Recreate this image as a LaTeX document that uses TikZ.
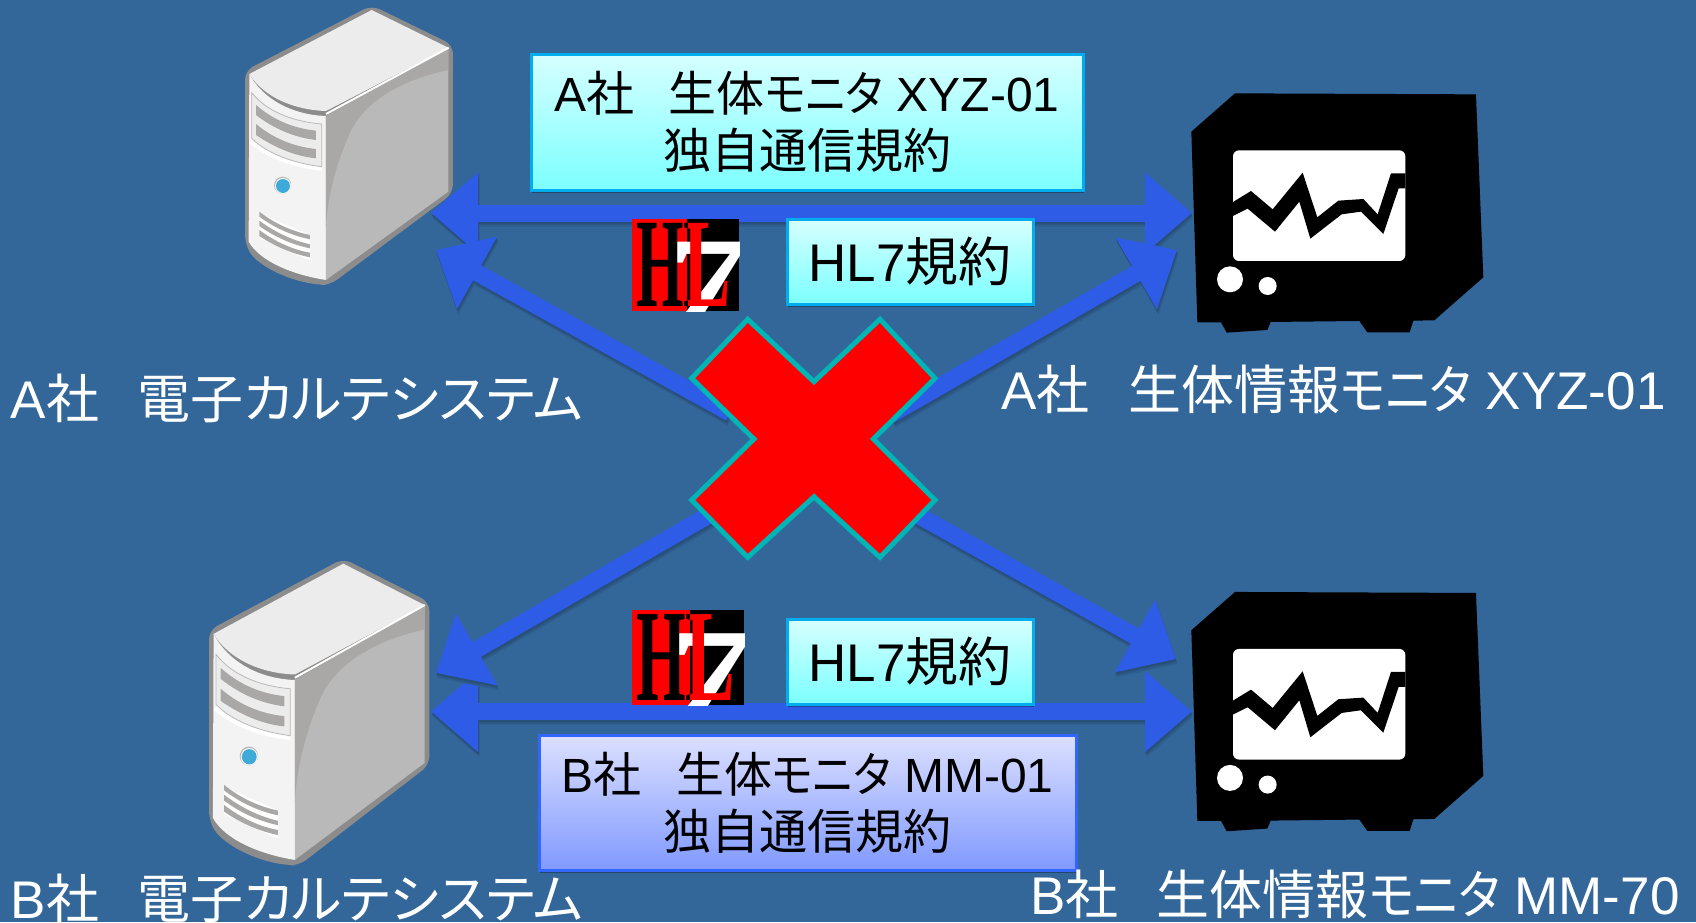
\documentclass[tikz,border=0pt]{standalone}
\usepackage{fontspec}
\usetikzlibrary{arrows.meta,shadows}
\setmainfont{Liberation Sans}
\newfontfamily\cjkfont{Noto Sans CJK JP}
\newfontfamily\kanafont[RawFeature=+palt]{Noto Sans CJK JP}
\newfontfamily\logofont{Liberation Serif}
\newcommand\Jp[1]{{\cjkfont #1}}
\newcommand\Kn[1]{{\kanafont #1}}
\newcommand\Ks[1]{\scalebox{.9}[1]{\kanafont #1}}
\newcommand\Gp{\hspace{.72em}}
\definecolor{bgblue}{HTML}{336699}
\definecolor{arrowblue}{HTML}{2E5CE6}
\definecolor{shadowA}{HTML}{2F5F8E}
\definecolor{shadowB}{HTML}{2B5783}
\definecolor{shadowC}{HTML}{274F78}
\definecolor{crossedge}{HTML}{00B5B5}
\definecolor{srvedge}{HTML}{8C8C8C}
\definecolor{srvtop}{HTML}{ECECEC}
\definecolor{srvfront}{HTML}{F3F3F3}
\definecolor{srvside}{HTML}{B9B9B9}
\definecolor{srvband}{HTML}{A9A8A6}
\definecolor{srvdot}{HTML}{3FA9D8}
\definecolor{cyantop}{HTML}{D6FFFF}
\definecolor{cyanbot}{HTML}{7CFFFF}
\definecolor{bluetop}{HTML}{DCE0FF}
\definecolor{bluebot}{HTML}{8099FF}
\definecolor{bluedge}{HTML}{3366FF}
\tikzset{
  lab/.style={text=white,font=\fontsize{53}{60}\selectfont,inner sep=0pt},
  boxshadow/.style={drop shadow={shadow xshift=1pt,shadow yshift=-3pt,fill=black,opacity=.3}},
  cyanbox/.style={draw=cyan,line width=3pt,top color=cyantop,bottom color=cyanbot,boxshadow,
    align=center,text=black,font=\fontsize{48}{57}\selectfont,inner sep=0pt},
  bluebox/.style={draw=bluedge,line width=3pt,top color=bluetop,bottom color=bluebot,boxshadow,
    align=center,text=black,font=\fontsize{48}{57}\selectfont,inner sep=0pt},
  hlbox/.style={cyanbox,font=\fontsize{53}{60}\selectfont,minimum width=246pt,minimum height=85pt},
  twohead/.style={line width=17pt,{Triangle[length=47pt,width=78pt]}-{Triangle[length=47pt,width=78pt]}},
  onehead/.style={line width=17pt,-{Triangle[length=47pt,width=80pt]}},
}
\newcommand\conn[3]{%
  \draw[#1,shadowA,transform canvas={shift={(1.5pt,-5pt)}}] (#2) -- (#3);
  \draw[#1,shadowB,transform canvas={shift={(1pt,-3.5pt)}}] (#2) -- (#3);
  \draw[#1,shadowC,transform canvas={shift={(.5pt,-2pt)}}] (#2) -- (#3);
  \draw[#1,arrowblue] (#2) -- (#3);
}
\newcommand\serverart{%
  \fill[srvedge,rounded corners=9pt] (75,212)--(455,16)--(699,135)--(699,580)--(330,855)--(305,855)
     .. controls (200,840) and (110,795) .. (75,730) -- cycle;
  \fill[srvfront] (88,222) .. controls (130,300) and (220,345) .. (318,348) -- (318,840)
     .. controls (220,825) and (120,785) .. (86,725) -- cycle;
  \fill[srvtop] (88,222)--(455,30)--(685,143)--(318,333) .. controls (220,330) and (130,290) .. (88,222) -- cycle;
  \fill[srvside] (318,348)--(685,145)--(685,575)--(318,840)--cycle;
  \fill[srvband] (318,348)--(685,145)--(685,210) .. controls (520,245) and (420,320) .. (385,410)
     .. controls (345,500) and (322,600) .. (318,680) -- cycle;
  \draw[white,line width=2pt] (318,342)--(686,143);
  \fill[white] (88,430) .. controls (150,480) and (230,505) .. (306,512) -- (306,505) -- (95,420) -- cycle;
  \filldraw[fill=srvtop,draw=srvside,line width=.8pt] (95,278) .. controls (140,335) and (220,365) .. (305,372)
     -- (305,500) .. controls (220,490) and (140,460) .. (95,415) -- cycle;
  \fill[srvband] (108,315) .. controls (160,360) and (220,385) .. (288,392) -- (288,420) .. controls (220,412) and (160,385) .. (108,345) -- cycle;
  \fill[srvband] (108,372) .. controls (160,415) and (220,440) .. (288,447) -- (288,475) .. controls (220,468) and (160,440) .. (108,405) -- cycle;
  \fill[srvside] (188,556) circle[radius=26];
  \fill[white] (189,558) circle[radius=24];
  \fill[srvdot] (189,558) circle[radius=21];
  \fill[white] (118,640)--(270,705)--(270,782)--(118,715)--cycle;
  \fill[srvband] (118,635) .. controls (165,672) and (220,695) .. (270,705) -- (270,718) .. controls (220,708) and (165,685) .. (118,650) -- cycle;
  \fill[srvband] (118,662) .. controls (165,697) and (220,722) .. (270,733) -- (270,745) .. controls (220,735) and (165,712) .. (118,678) -- cycle;
  \fill[srvband] (118,690) .. controls (165,725) and (220,750) .. (270,758) -- (270,772) .. controls (220,762) and (165,740) .. (118,708) -- cycle;
}
\newcommand\monitorart{%
  \fill[black] (195,40)--(918,43)--(940,592)--(793,721)--(730,722)--(719,757)--(592,757)--(568,723)
     --(302,726)--(292,750)--(170,758)--(153,727)--(82,727)--(64,155)--cycle;
  \fill[white,rounded corners=6pt] (189,211) rectangle (706,543);
  \fill[black] (189,366)--(243,333)--(308,388)--(398,278)--(442,412)--(505,362)--(580,357)--(623,403)
     --(663,280)--(706,280)--(706,325)--(686,325)--(640,462)--(573,395)--(515,403)--(421,476)--(388,365)
     --(315,455)--(233,386)--(189,408)--cycle;
  \fill[white] (180,598) circle[radius=39];
  \fill[white] (293,618) circle[radius=27];
}
\newcommand\hlseven[1]{%
  \begin{scope}
    \clip (0,0) rectangle (107,92);
    \fill[black] (0,0) rectangle (107,92);
    \fill[red] (0,0) rectangle (55,92);
    \node[text=white,inner sep=0pt,transform shape,font=\logofont\bfseries\fontsize{112}{112}\selectfont] (#1seven) at (76,60) {\scalebox{1.5}[1]{7}};
    \node[text=black,inner sep=0pt,transform shape,font=\logofont\bfseries\fontsize{127}{127}\selectfont] (#1h) at (28,46) {\scalebox{.48}[1]{H}};
    \begin{scope}
      \clip (55,0) rectangle (107,92);
      \node[text=red,inner sep=0pt,transform shape,font=\logofont\bfseries\fontsize{127}{127}\selectfont] (#1l) at (75,46) {\scalebox{.56}[1]{L}};
    \end{scope}
    \begin{scope}
      \clip (0,0) rectangle (55,92);
      \node[text=black,inner sep=0pt,transform shape,font=\logofont\bfseries\fontsize{127}{127}\selectfont] (#1m) at (75,46) {\scalebox{.56}[1]{L}};
    \end{scope}
  \end{scope}
}
\begin{document}
\begin{tikzpicture}[x=1pt,y=-1pt]
\useasboundingbox (0,0) rectangle (1696,922);
\fill[bgblue] (0,0) rectangle (1696,922);
\begin{scope}[shift={(220,0)},scale=.3333]\serverart\end{scope}
\begin{scope}[shift={(182.5,552.7)},xscale=.3533,yscale=.3657]\serverart\end{scope}
\begin{scope}[shift={(1170,80)},scale=.3333]\monitorart\end{scope}
\begin{scope}[shift={(1170,578.6)},scale=.3333]\monitorart\end{scope}
\coordinate (ta) at (431,213);
\coordinate (tb) at (1192,213);
\coordinate (ba) at (431,711.5);
\coordinate (bb) at (1192,711.5);
\coordinate (ul) at (436,250);
\coordinate (ulin) at (730,413);
\coordinate (ur) at (1177,250);
\coordinate (urin) at (890,415);
\coordinate (ll) at (436,673);
\coordinate (llin) at (740,497);
\coordinate (lr) at (1176,659);
\coordinate (lrin) at (880,494);
\conn{twohead}{ta}{tb}
\conn{twohead}{ba}{bb}
\conn{onehead}{ulin}{ul}
\conn{onehead}{urin}{ur}
\conn{onehead}{llin}{ll}
\conn{onehead}{lrin}{lr}
\begin{scope}[shift={(632,219)}]\hlseven{la}\end{scope}
\begin{scope}[shift={(632,610)},xscale=1.047,yscale=1.033]\hlseven{lb}\end{scope}
\node[cyanbox,minimum width=552pt,minimum height=136pt] (boxA) at (807,122)
  {A\Jp{社\Gp 生体}\Ks{モニタ} XYZ-01\\\Jp{独自通信規約}};
\node[hlbox] (hlA) at (910,261.5) {HL7\Jp{規約}};
\node[hlbox] (hlB) at (910,661.5) {HL7\Jp{規約}};
\node[bluebox,minimum width=537pt,minimum height=135pt] (boxB) at (807.5,802.5)
  {B\Jp{社\Gp 生体}\Ks{モニタ} MM-01\\\Jp{独自通信規約}};
\coordinate (crosscenter) at (814,439);
\filldraw[fill=red,draw=crossedge,line width=5pt,miter limit=10]
  (747.7,319.3)--(814,381.7)--(880,319.3)--(935,378.3)--(873.3,439)--(935,500)--(880,557.3)
  --(814,496.7)--(747.7,557.3)--(691.7,500)--(754,439)--(691.7,378.3)--cycle;
\node[lab] (labAsys) at (297,398) {A\Jp{社\Gp 電子}\Kn{カルテシステム}};
\node[lab] (labAmon) at (1333.5,389) {A\Jp{社\Gp 生体情報}\Ks{モニタ} XYZ-01};
\node[lab] (labBsys) at (297,898) {B\Jp{社\Gp 電子}\Kn{カルテシステム}};
\node[lab] (labBmon) at (1355,894) {B\Jp{社\Gp 生体情報}\Ks{モニタ} MM-70};
\end{tikzpicture}
\end{document}
